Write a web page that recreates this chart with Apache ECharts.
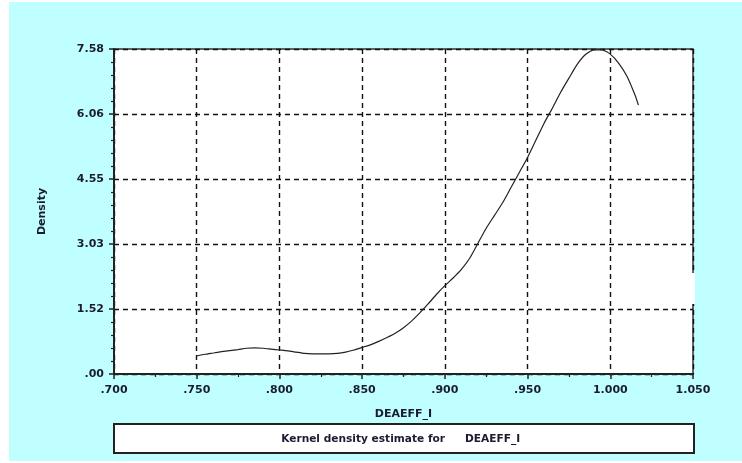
<!DOCTYPE html>
<html>
<head>
<meta charset="utf-8">
<script src="https://cdn.jsdelivr.net/npm/echarts@6/dist/echarts.min.js"></script>
<style>
  html, body { margin: 0; padding: 0; background: #ffffff; }
  #wrap { position: relative; width: 742px; height: 463px; background: #ffffff; }
  #panel { position: absolute; left: 9px; top: 2px; width: 733px; height: 459px; background: #c0ffff; }
  #chart { position: absolute; left: 0; top: 0; width: 742px; height: 463px; }
</style>
</head>
<body>
<div id="wrap">
  <div id="panel"></div>
  <div id="chart"></div>
</div>
<script>
// Kernel density estimate of DEAEFF_I
const efficiency = [
  0.750, 0.755, 0.760, 0.765, 0.770, 0.775, 0.780, 0.785, 0.790, 0.795,
  0.800, 0.805, 0.810, 0.815, 0.820, 0.825, 0.830, 0.835, 0.840, 0.845,
  0.850, 0.855, 0.860, 0.865, 0.870, 0.875, 0.880, 0.885, 0.890, 0.895,
  0.900, 0.905, 0.910, 0.915, 0.920, 0.925, 0.930, 0.935, 0.940, 0.945,
  0.950, 0.955, 0.960, 0.965, 0.970, 0.975, 0.980, 0.985, 0.990, 0.995,
  1.000, 1.005, 1.010, 1.015, 1.017
];
const density = [
  0.42, 0.46, 0.49, 0.52, 0.545, 0.57, 0.60, 0.61, 0.60, 0.58,
  0.56, 0.54, 0.51, 0.48, 0.47, 0.47, 0.47, 0.48, 0.51, 0.56,
  0.62, 0.68, 0.76, 0.85, 0.95, 1.08, 1.24, 1.43, 1.64, 1.86,
  2.06, 2.24, 2.44, 2.70, 3.05, 3.40, 3.70, 4.00, 4.35, 4.70,
  5.05, 5.45, 5.85, 6.20, 6.57, 6.90, 7.22, 7.45, 7.56, 7.56,
  7.46, 7.25, 6.95, 6.50, 6.27
];
const xTicks = { min: 0.70, max: 1.05, step: 0.05 };
const yTicks = { min: 0, max: 7.58, step: 1.516 };
const xTitle = 'DEAEFF_I';
const yTitle = 'Density';
const legendLead = 'Kernel density estimate for';
const legendVar = 'DEAEFF_I';

const textColor = '#1a1a33';
const labelFont = { fontFamily: 'DejaVu Sans', fontWeight: 'bold', fontSize: 11, color: textColor };

const chart = echarts.init(document.getElementById('chart'), null, { renderer: 'canvas' });

const dash = { color: '#111', width: 1.4, type: [5, 4] };

chart.setOption({
  backgroundColor: 'transparent',
  animation: false,
  grid: {
    left: 114, right: 49, top: 49, bottom: 89,
    show: true, backgroundColor: '#ffffff', borderColor: '#333', borderWidth: 1.5
  },
  xAxis: {
    type: 'value',
    min: xTicks.min, max: xTicks.max, interval: xTicks.step,
    name: xTitle, nameLocation: 'middle', nameGap: 35,
    nameTextStyle: Object.assign({}, labelFont),
    axisLine: { show: true, onZero: false, lineStyle: { color: '#222', width: 2 } },
    axisTick: { show: true, length: 5, lineStyle: { color: '#222', width: 1.5 } },
    minorTick: { show: true, splitNumber: 2, length: 3, lineStyle: { color: '#222', width: 1.2 } },
    axisLabel: Object.assign({ margin: 11, formatter: v => v.toFixed(3).replace(/^0/, '') }, labelFont),
    splitLine: { show: true, lineStyle: dash }
  },
  yAxis: {
    type: 'value',
    min: yTicks.min, max: yTicks.max, interval: yTicks.step,
    name: yTitle, nameLocation: 'middle', nameGap: 66, nameRotate: 90,
    nameTextStyle: Object.assign({}, labelFont),
    axisLine: { show: true, onZero: false, lineStyle: { color: '#222', width: 2 } },
    axisTick: { show: true, length: 5, lineStyle: { color: '#222', width: 1.5 } },
    minorTick: { show: true, splitNumber: 5, length: 3, lineStyle: { color: '#222', width: 1.2 } },
    axisLabel: Object.assign({ margin: 10, formatter: v => v.toFixed(2).replace(/^0/, '') }, labelFont),
    splitLine: { show: true, lineStyle: dash }
  },
  series: [{
    type: 'line',
    data: efficiency.map((x, i) => [x, density[i]]),
    showSymbol: false,
    smooth: 0.2,
    lineStyle: { color: '#222', width: 1.2 },
    z: 5
  }],
  graphic: [
    // gap in the right frame of the plot
    { type: 'rect', shape: { x: 690, y: 273, width: 5, height: 31 }, style: { fill: '#ffffff' }, z: 100 },
    // caption box below the axis
    { type: 'rect', shape: { x: 114, y: 424, width: 580, height: 29 },
      style: { fill: '#ffffff', stroke: '#222', lineWidth: 2 }, z: 50 },
    { type: 'text', x: 445, y: 439, z: 60,
      style: { text: legendLead, align: 'right', verticalAlign: 'middle',
        font: 'bold 10.6px "DejaVu Sans"', fill: textColor } },
    { type: 'text', x: 465, y: 439, z: 60,
      style: { text: legendVar, align: 'left', verticalAlign: 'middle',
        font: 'bold 10.6px "DejaVu Sans"', fill: textColor } }
  ]
});
</script>
</body>
</html>
